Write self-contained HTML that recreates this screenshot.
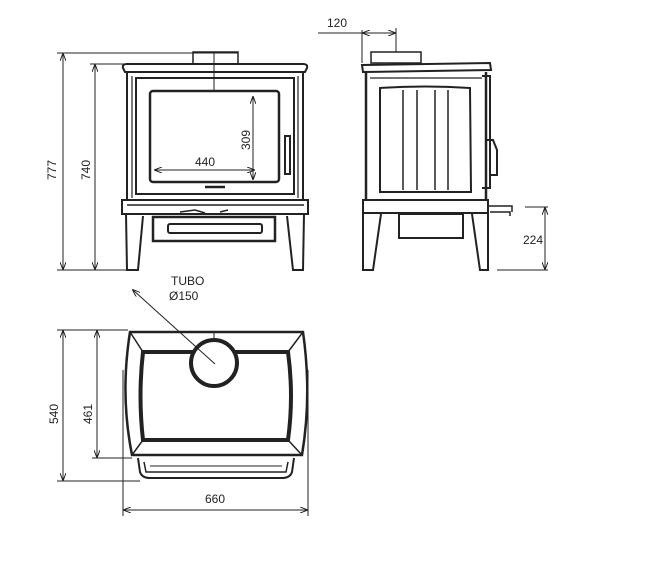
<!DOCTYPE html>
<html><head><meta charset="utf-8"><style>
html,body{margin:0;padding:0;background:#fff;}
svg{display:block}
text{font-family:"Liberation Sans",Arial,sans-serif;fill:#222;font-size:12px}
</style></head><body>
<svg width="650" height="569" viewBox="0 0 650 569" xmlns="http://www.w3.org/2000/svg">
<defs>
<marker id="a" markerWidth="8" markerHeight="6" refX="7" refY="3" orient="auto-start-reverse" markerUnits="userSpaceOnUse"><path d="M0,0 L8,3 L0,6" fill="none" stroke="#222" stroke-width="1"/></marker>
</defs>
<g stroke="#222" fill="none" stroke-width="1">
<!-- FRONT dims -->
<line x1="57" y1="53" x2="238" y2="53"/>
<line x1="90" y1="64" x2="125" y2="64"/>
<line x1="57" y1="270" x2="128" y2="270"/>
<line x1="63" y1="54" x2="63" y2="269" marker-start="url(#a)" marker-end="url(#a)"/>
<line x1="95" y1="65" x2="95" y2="269" marker-start="url(#a)" marker-end="url(#a)"/>
<!-- front stove -->
<rect x="193" y="52" width="45" height="12" stroke-width="1.5"/>
<path d="M123,68 Q122,64 127,64 L303,64 Q308,64 307,68 L305,72 L125,72 Z" stroke-width="2"/>
<path d="M127,72 L127,200 M303,72 L303,200" stroke-width="2"/>
<path d="M132,76 L132,198 M298,76 L298,198" stroke-width="1.2"/>
<rect x="136" y="78" width="158" height="116" stroke-width="2"/>
<rect x="150" y="91" width="129" height="91" rx="3" stroke-width="2.5"/>
<line x1="214" y1="53" x2="214" y2="92"/>
<line x1="253" y1="97" x2="253" y2="179" marker-start="url(#a)" marker-end="url(#a)"/>
<line x1="155" y1="170" x2="254" y2="170" marker-start="url(#a)" marker-end="url(#a)"/>
<rect x="285" y="136" width="5" height="38" stroke-width="2"/>
<line x1="205" y1="187" x2="225" y2="187" stroke-width="2.5"/>
<path d="M122,200 L122,214 L308,214 L308,200 Z" stroke-width="2"/>
<line x1="127" y1="205" x2="304" y2="205" stroke-width="1.5"/>
<path d="M126,214 L127,270 L138,270 L143,216 M304,214 L303,270 L293,270 L287,216" stroke-width="2"/>
<path d="M180,212 L195,210 L205,213 M220,212 L228,210" stroke-width="1.5"/>
<rect x="153" y="217" width="122" height="24" stroke-width="2.5"/>
<rect x="168" y="224" width="94" height="9" rx="2" stroke-width="2"/>
<!-- SIDE view -->
<line x1="318" y1="33" x2="362" y2="33"/>
<line x1="362" y1="30" x2="362" y2="63"/>
<line x1="396" y1="28" x2="396" y2="52"/>
<line x1="363" y1="33" x2="395" y2="33" marker-start="url(#a)" marker-end="url(#a)"/>
<rect x="371" y="52" width="50" height="11" stroke-width="1.5"/>
<path d="M362,65 L490,63 L491,70 L363,72 Z" stroke-width="2"/>
<path d="M366,72 L366,200 M486,72 L486,200" stroke-width="2.5"/>
<line x1="370" y1="78" x2="482" y2="78" stroke-width="1.2"/>
<path d="M380,88 Q425,85 470,88 L471,192 L380,192 Z" stroke-width="2"/>
<path d="M403,90 L403,190 M417,90 L417,190 M435,90 L435,190 M448,90 L448,190" stroke-width="1.5"/>
<path d="M482,76 L490,76 L490,188 L482,188" stroke-width="2"/>
<path d="M487,140 L493,140 L497,150 L497,175 L491,175" stroke-width="2"/>
<path d="M363,200 L488,200 L488,213 L363,213 Z" stroke-width="2"/>
<path d="M363,213 L363,270 L373,270 L381,214 M488,213 L488,270 L480,270 L472,214" stroke-width="2"/>
<rect x="399" y="214" width="64" height="24" stroke-width="2"/>
<path d="M488,206 L512,206 L512,212 M490,212 L510,212 L510,216" stroke-width="1.5"/>
<line x1="525" y1="207" x2="548" y2="207"/>
<line x1="497" y1="270" x2="548" y2="270"/>
<line x1="545" y1="208" x2="545" y2="269" marker-start="url(#a)" marker-end="url(#a)"/>
<!-- TOP view -->
<line x1="57" y1="330" x2="128" y2="330"/>
<line x1="92" y1="458" x2="132" y2="458"/>
<line x1="57" y1="481" x2="140" y2="481"/>
<line x1="63" y1="331" x2="63" y2="480" marker-start="url(#a)" marker-end="url(#a)"/>
<line x1="97" y1="331" x2="97" y2="457" marker-start="url(#a)" marker-end="url(#a)"/>
<line x1="123" y1="370" x2="123" y2="516"/>
<line x1="308" y1="370" x2="308" y2="516"/>
<line x1="124" y1="510" x2="307" y2="510" marker-start="url(#a)" marker-end="url(#a)"/>
<path d="M130,332 L303,332 Q312,395 302,455 L132,455 Q120,395 130,332 Z" stroke-width="2.5"/>
<path d="M143,352 L288,352 Q294,396 288,440 L143,440 Q138,396 143,352 Z" stroke-width="4"/>
<path d="M130,332 L143,352 M303,332 L288,352 M132,455 L143,440 M302,455 L288,440" stroke-width="1.5"/>
<line x1="214" y1="332" x2="214" y2="340"/>
<circle cx="214" cy="363" r="23" stroke-width="4" fill="#fff"/>
<path d="M138,458 L140,472 Q142,478 150,478 L282,478 Q290,478 292,472 L294,458" stroke-width="2"/>
<path d="M144,462 L146,472 L286,472 L288,462" stroke-width="1.5"/>
<line x1="150" y1="466" x2="282" y2="466" stroke-width="1"/>
<line x1="215" y1="364" x2="133" y2="290" marker-end="url(#a)"/>
</g>
<text x="46" y="164" transform="rotate(-90 54 162)" text-anchor="middle">777</text>
<text x="80" y="164" transform="rotate(-90 88 162)" text-anchor="middle">740</text>
<text x="244" y="138" transform="rotate(-90 248 136)" text-anchor="middle">309</text>
<text x="205" y="166" text-anchor="middle">440</text>
<text x="327" y="27">120</text>
<text x="533" y="244" text-anchor="middle">224</text>
<text x="171" y="285">TUBO</text>
<text x="169" y="300">Ø150</text>
<text x="48" y="408" transform="rotate(-90 56 406)" text-anchor="middle">540</text>
<text x="82" y="408" transform="rotate(-90 90 406)" text-anchor="middle">461</text>
<text x="215" y="503" text-anchor="middle">660</text>
</svg>
</body></html>
